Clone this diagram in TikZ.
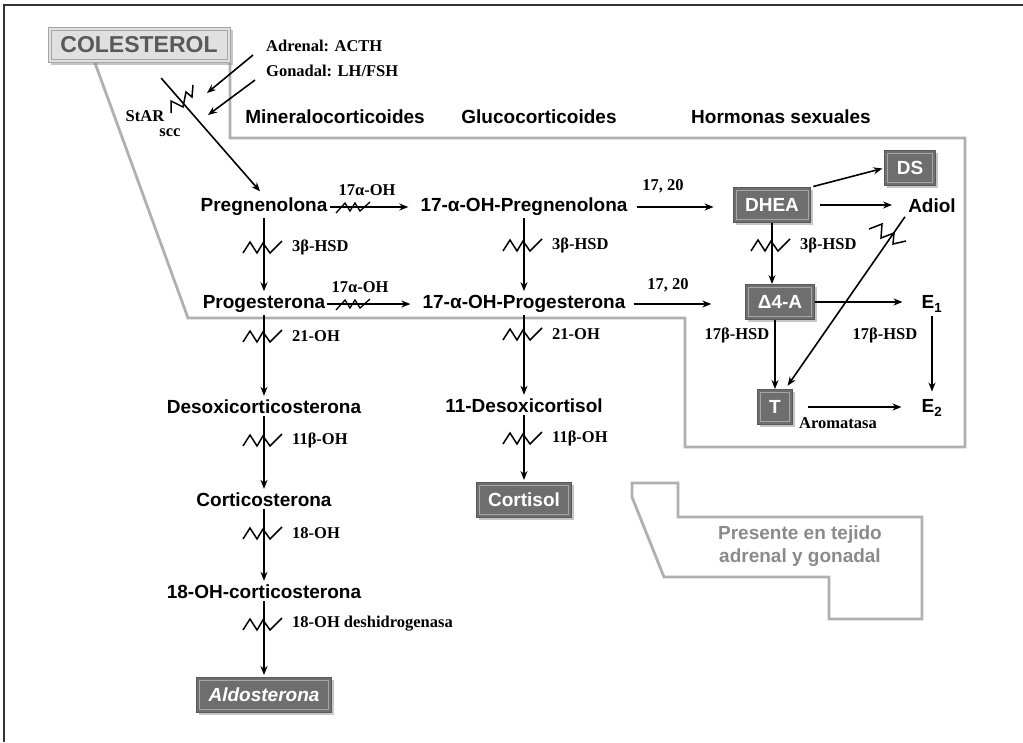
\documentclass[tikz,border=0pt]{standalone}
\usepackage{fontspec}
\setmainfont{Liberation Serif}
\setsansfont{Liberation Sans}
\usetikzlibrary{arrows.meta,shadows}

\definecolor{boxgray}{HTML}{6E6E6E}
\definecolor{edgegray}{HTML}{B0B0B0}
\definecolor{txtgray}{HTML}{8A8A8A}

\begin{document}
\begin{tikzpicture}[x=1pt,y=-1pt]
  \tikzstyle{mol} = [font=\sffamily\bfseries\fontsize{19}{23}\selectfont,inner sep=2pt]
  \tikzstyle{enz} = [font=\bfseries\fontsize{16.5}{19}\selectfont,inner sep=1pt]
  \tikzstyle{hbox} = [mol,text=white,fill=boxgray,draw=black!65,line width=1pt,
    minimum height=35pt,inner xsep=12pt,
    drop shadow={shadow xshift=2.5pt,shadow yshift=-2.5pt,opacity=.45},
    path picture={\draw[black!35,line width=.8pt]
      ([shift={(3pt,3pt)}]path picture bounding box.south west) rectangle
      ([shift={(-3pt,-3pt)}]path picture bounding box.north east);}]
  \tikzstyle{cbox} = [hbox,font=\sffamily\bfseries\fontsize{23}{26}\selectfont,
    text=black!65,fill=black!12,draw=black!35,minimum width=182pt]
  \tikzstyle{arr} = [-{Stealth[length=9pt,width=7pt]},line width=1.6pt]
  \tikzstyle{zone} = [draw=edgegray,line width=2.8pt]
  \tikzset{vzig/.pic={\draw[line width=1.5pt] (-21,6) -- (-14,-5) -- (-7,6) -- (-1,-4) -- (6,6) -- (18,-6);},
    hzig/.pic={\draw[line width=1.3pt] (-22,6) -- (-13,-4) -- (-8,4) -- (-3,-4) -- (2,4) -- (12,-5);}}

  \useasboundingbox (0,0) rectangle (1023,742);
  \draw[black!80,line width=1.5pt] (4,742) -- (4,5) -- (1023,5);

  % zonas
  \draw[zone] (95,63) -- (188,318) -- (685,318) -- (685,447) -- (965,447) -- (965,138) -- (230,138) -- (230,63);
  \draw[zone] (632,483) -- (678,483) -- (678,517) -- (922,517) -- (922,619) -- (829,619) -- (829,577) -- (664,577) -- (632,497) -- cycle;
  \node[mol,text=txtgray,align=center] (pres) at (800,546) {Presente en tejido\\adrenal y gonadal};

  \node[cbox] (col) at (139,45) {COLESTEROL};
  \foreach \l/\x/\t in {mineral/335/Mineralocorticoides, gluco/539/Glucocorticoides, sexual/781/Hormonas sexuales} {
    \node[mol] (\l) at (\x,117) {\t};
  }
  \foreach \l/\x/\y/\t in {preg/264/207/Pregnenolona, ohpreg/524/207/17-α-OH-Pregnenolona,
    prog/264/304/Progesterona, ohprog/524/304/17-α-OH-Progesterona,
    deoc/264/407/Desoxicorticosterona, deox/524/406/11-Desoxicortisol,
    cortico/264/500/Corticosterona, ohcort/264/592/18-OH-corticosterona,
    adiol/932/206/Adiol, eone/932/304/E\textsubscript{1}, etwo/932/408/E\textsubscript{2}} {
    \node[mol] (\l) at (\x,\y) {\t};
  }
  \foreach \l/\x/\y/\t in {dhea/772/205/DHEA, ds/910/168/DS, afour/780/302/Δ4-A, tes/775/407/T, cortisol/524/500/Cortisol} {
    \node[hbox] (\l) at (\x,\y) {\t};
  }
  \node[hbox,font=\sffamily\bfseries\itshape\fontsize{19}{23}\selectfont] (aldo) at (264,695) {Aldosterona};

  % estimulo y StAR
  \node[enz,anchor=west] (acth) at (265,46) {Adrenal: ACTH};
  \node[enz,anchor=west] (fsh) at (265,71) {Gonadal: LH/FSH};
  \node[enz] (star) at (145,116) {StAR};
  \node[enz] (scc) at (170,133) {scc};
  \coordinate (tg1) at (207,93);
  \coordinate (tg2) at (208,115);
  \coordinate (chol) at ([xshift=9pt]col.south);
  \draw[arr] ([shift={(-12,2)}]acth.south west) -- (tg1);
  \draw[arr] ([shift={(-10,2)}]fsh.south west) -- (tg2);
  \draw[arr,shorten <=20pt,shorten >=6pt] (chol) -- (preg.north);
  \draw[line width=1.5pt] (171,113) -- (171,101) -- (183,107) -- (186,92) -- (192,97) -- (193,85);

  \foreach \a/\b/\x/\y/\t in {preg/prog/264/247/3β-HSD, prog/deoc/264/336/21-OH, deoc/cortico/264/440/11β-OH,
    cortico/ohcort/264/533/18-OH, ohcort/aldo/264/624/18-OH deshidrogenasa,
    ohpreg/ohprog/524/245/3β-HSD, ohprog/deox/524/334/21-OH, deox/cortisol/524/438/11β-OH} {
    \draw[arr,shorten >=2pt] (\a) -- (\b);
    \pic at (\x,\y) {vzig};
    \node[enz,anchor=west] (e\a) at (\x+27,\y) {\t};
  }

  \foreach \a/\b/\x/\y in {preg/ohpreg/358/207, prog/ohprog/358/304} {
    \draw[arr,shorten >=10pt] (\a) -- (\b);
    \pic at (\x,\y) {hzig};
  }
  \node[enz] (oha) at (367,190) {17α-OH};
  \node[enz] (ohb) at (360,287) {17α-OH};

  \draw[arr,shorten <=7pt,shorten >=19pt] (ohpreg.east) -- (ohpreg.east -| dhea.west);
  \draw[arr,shorten <=6pt,shorten >=34pt] (ohprog.east) -- (ohprog.east -| afour.west);
  \node[enz] (lya) at (663,186) {17, 20};
  \node[enz] (lyb) at (668,285) {17, 20};

  \draw[arr,shorten <=2pt,shorten >=2pt] (dhea.north east) -- (ds.west);
  \draw[arr,shorten <=9pt,shorten >=14pt] (dhea.east) -- (dhea.east -| adiol.west);
  \draw[arr] (dhea.south) -- (dhea.south |- afour.north);
  \pic at (772,245) {vzig};
  \node[enz,anchor=west] (edhea) at (799,245) {3β-HSD};

  \draw[arr,shorten >=17pt] (afour.east) -- (afour.east -| eone.west);
  \draw[arr] (tes.north |- afour.south) -- (tes.north);
  \node[enz] (hsda) at (737,335) {17β-HSD};
  \draw[arr,shorten <=2pt,shorten >=6pt] (eone.south) -- (etwo.north);
  \node[enz] (hsdb) at (885,335) {17β-HSD};
  \draw[arr,shorten <=15pt,shorten >=18pt] (tes.east) -- (tes.east -| etwo.west);
  \node[enz] (arom) at (838,423) {Aromatasa};

  \draw[arr,shorten <=2pt,shorten >=4pt] (adiol.south west) -- ([xshift=-8pt]tes.north east);
  \draw[line width=1.5pt] (869,229) -- (882,224) -- (881,238) -- (894,233) -- (893,244) -- (906,241);
\end{tikzpicture}
\end{document}
